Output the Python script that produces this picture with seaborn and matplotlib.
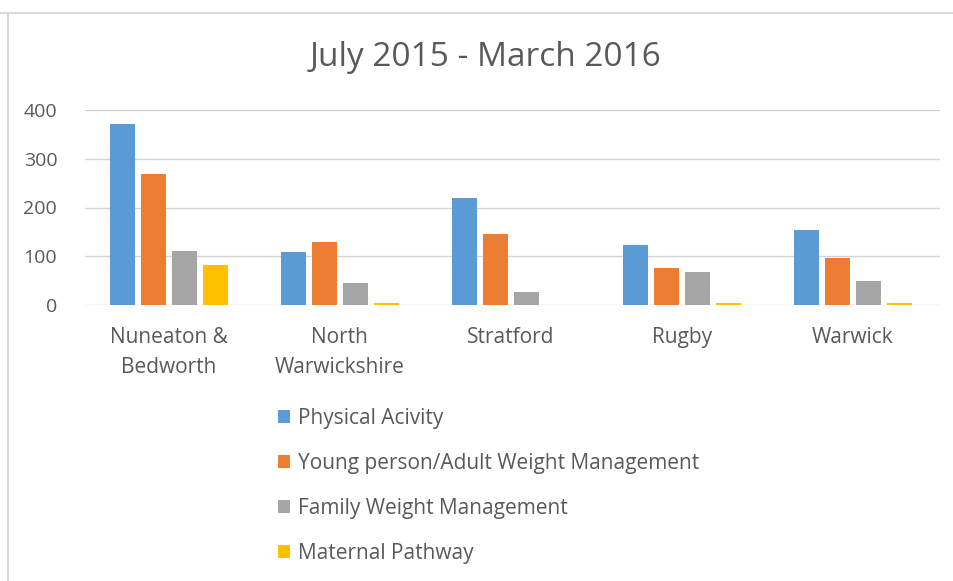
import matplotlib
matplotlib.use("Agg")
import matplotlib.pyplot as plt
import seaborn as sns
import pandas as pd
from matplotlib.patches import Patch
from matplotlib.lines import Line2D

categories = ["Nuneaton &\nBedworth", "North\nWarwickshire", "Stratford", "Rugby", "Warwick"]
series_names = ["Physical Acivity", "Young person/Adult Weight Management",
                "Family Weight Management", "Maternal Pathway"]
physical = [372, 108, 219, 124, 153]
young_adult = [269, 129, 146, 75, 96]
family = [111, 46, 26, 67, 50]
maternal = [83, 5, 0, 5, 5]
colors = ["#5b9bd5", "#ed7d31", "#a5a5a5", "#ffc000"]
yticks = [0, 100, 200, 300, 400]

rows = []
for name, vals in zip(series_names, [physical, young_adult, family, maternal]):
    for c, v in zip(categories, vals):
        rows.append({"Area": c, "Series": name, "Value": v})
df = pd.DataFrame(rows)

sns.set_theme(style="white")
plt.rcParams["font.family"] = ["Open Sans", "DejaVu Sans"]
text_col = "#595959"

fig = plt.figure(figsize=(9.54, 5.81), dpi=100)
ax = fig.add_axes([85/954, 1-305/581, (940-85)/954, (305-110)/581])
sns.barplot(data=df, x="Area", y="Value", hue="Series", palette=colors,
            order=categories, hue_order=series_names, width=0.725, gap=0.2,
            saturation=1, legend=False, ax=ax, errorbar=None,
            edgecolor="none", zorder=3)
ax.set_ylim(0, 400)
ax.set_xlim(-0.49, 4.51)
ax.set_yticks(yticks)
ax.set_yticklabels([str(t) for t in yticks])
ax.yaxis.grid(True, color="#d4d4d4", linewidth=1.0, zorder=0)
ax.set_axisbelow(True)
for s in ax.spines.values():
    s.set_visible(False)
ax.set_xlabel("")
ax.set_ylabel("")
ax.tick_params(axis="y", length=0, pad=20, labelsize=14, labelcolor=text_col)
ax.tick_params(axis="x", length=0, pad=16, labelsize=15, labelcolor=text_col)
for lbl in ax.get_xticklabels():
    lbl.set_linespacing(1.55)

fig.text(486/954, 1-58/581, "July 2015 - March 2016", ha="center", va="center",
         fontsize=24, color=text_col)

handles = [Patch(facecolor=c, edgecolor="none") for c in colors]
leg = fig.legend(handles, series_names, loc="upper left",
                 bbox_to_anchor=(259/954, 1-389/581), frameon=False,
                 fontsize=15, labelcolor=text_col, handlelength=0.6,
                 handleheight=0.6, handletextpad=0.35, labelspacing=1.15)

# chart border
fig.add_artist(Line2D([0, 1], [1-13/581, 1-13/581], color="#d9d9d9", lw=1.5,
                      transform=fig.transFigure))
fig.add_artist(Line2D([8/954, 8/954], [0, 1-13/581], color="#d9d9d9", lw=1.5,
                      transform=fig.transFigure))

fig.savefig("out.png", dpi=100)
